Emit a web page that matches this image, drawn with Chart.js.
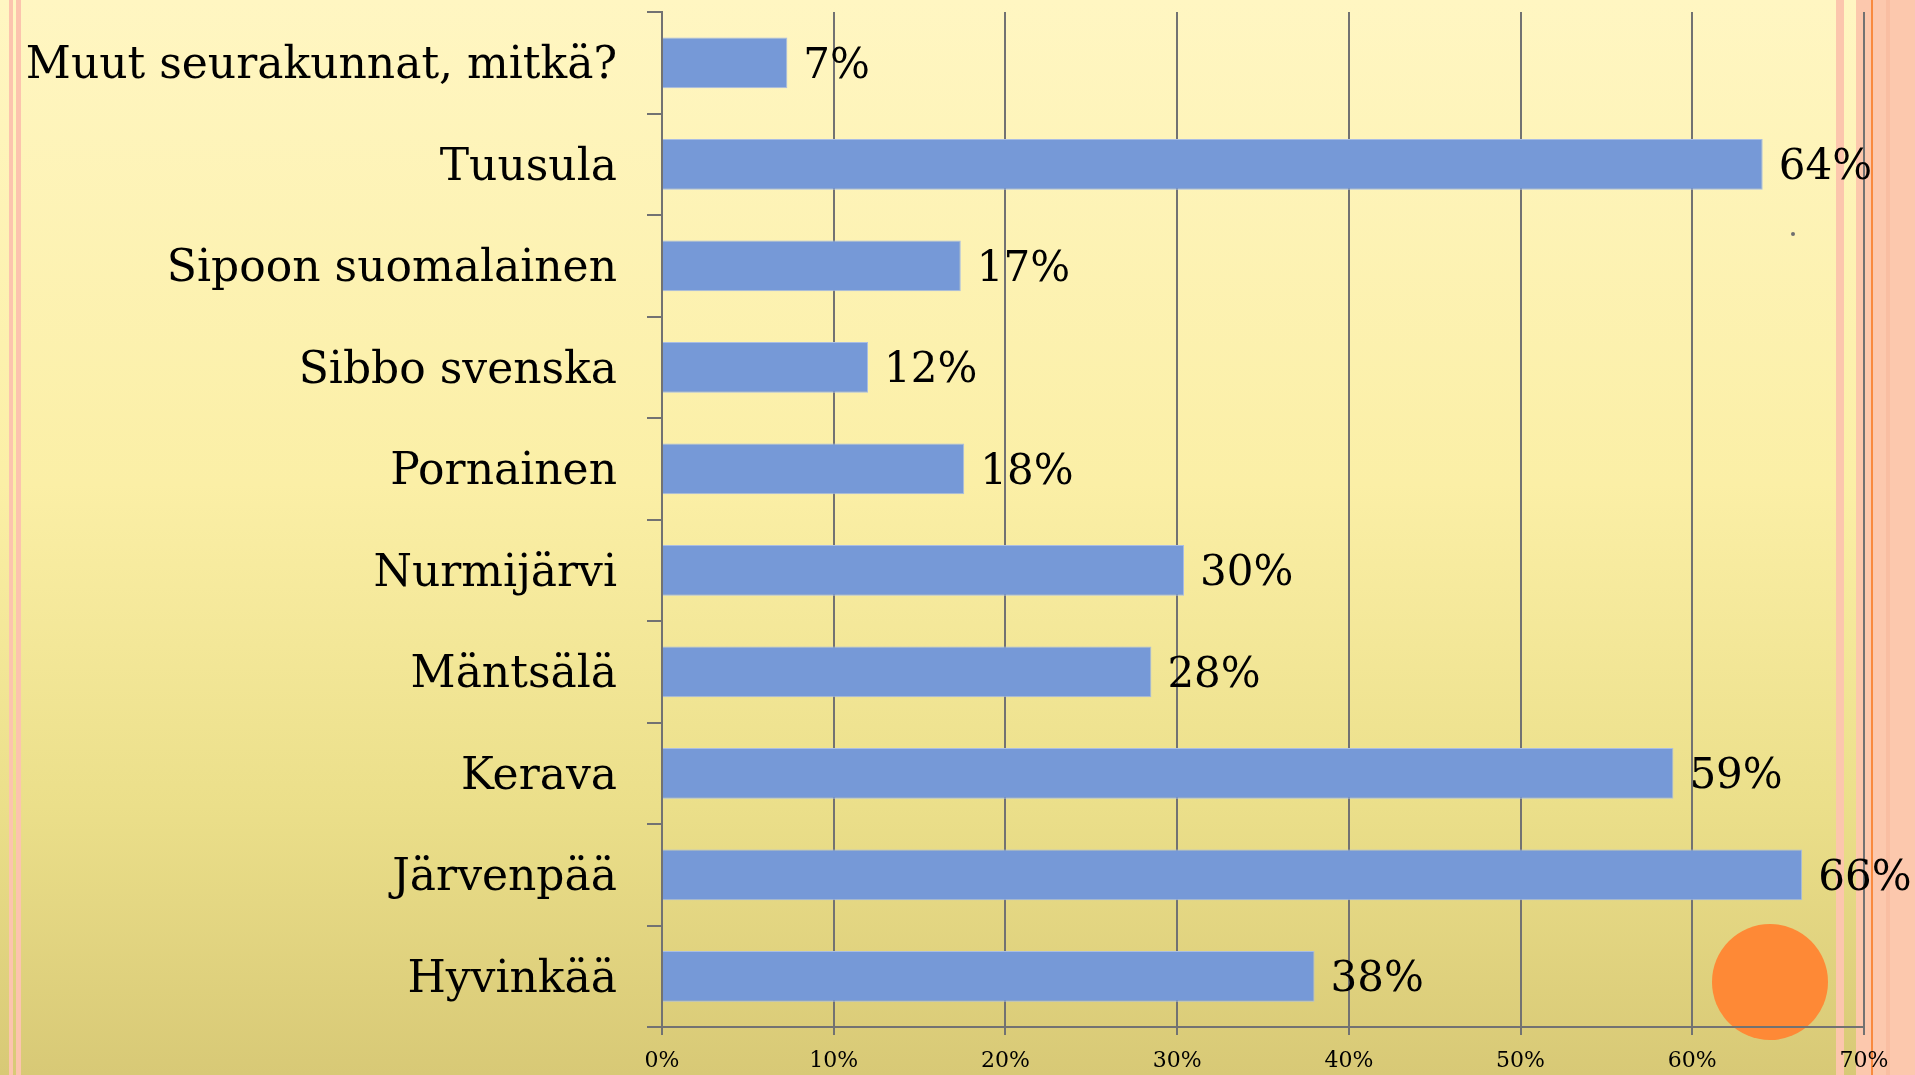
<!DOCTYPE html>
<html>
<head>
<meta charset="utf-8">
<script src="https://cdn.jsdelivr.net/npm/chart.js@4/dist/chart.umd.min.js"></script>
<style>
  body { margin: 0; overflow: hidden; }
  #slide {
    position: relative; width: 1915px; height: 1075px;
    background: linear-gradient(to bottom, #fff6c2 0%, #fbefa6 45%, #ebdf8a 75%, #d8c976 100%);
  }
  .deco { position: absolute; }
  canvas { position: absolute; left: 0; top: 0; }
</style>
</head>
<body>
<div id="slide">
  <!-- slide theme stripes -->
  <div class="deco" style="left:9px;top:0;width:4px;height:1075px;background:#fcc4ae"></div>
  <div class="deco" style="left:16px;top:0;width:5px;height:1075px;background:#fcc4ae"></div>
  <div class="deco" style="left:1836px;top:0;width:8px;height:1075px;background:#fcc6ad"></div>
  <div class="deco" style="left:1856px;top:0;width:59px;height:1075px;background:#fcc8ad"></div>
  <div class="deco" style="left:1871px;top:0;width:2px;height:1075px;background:#f98a3e"></div>
  <div class="deco" style="left:1886px;top:0;width:4px;height:1075px;background:#f9bea2"></div>
  <div class="deco" style="left:1712px;top:924px;width:116px;height:116px;border-radius:50%;background:#fe8936"></div>
  <div class="deco" style="left:1791px;top:232px;width:4px;height:4px;border-radius:50%;background:#6f6f6f"></div>
  <canvas id="kuva" width="1915" height="1075"></canvas>
</div>
<script>
// seurakunnat ja osuudet (%)
const categories = ['Muut seurakunnat, mitkä?', 'Tuusula', 'Sipoon suomalainen', 'Sibbo svenska',
  'Pornainen', 'Nurmijärvi', 'Mäntsälä', 'Kerava', 'Järvenpää', 'Hyvinkää'];
const values = [7.3, 64.1, 17.4, 12.0, 17.6, 30.4, 28.5, 58.9, 66.4, 38.0];
const valueLabels = ['7%', '64%', '17%', '12%', '18%', '30%', '28%', '59%', '66%', '38%'];
const xTicks = [0, 10, 20, 30, 40, 50, 60, 70];

const serif = 'DejaVu Serif';
const gray = '#727272';

// arvot palkkien perään
const barLabels = {
  id: 'barLabels',
  afterDatasetsDraw(chart) {
    const ctx = chart.ctx;
    const meta = chart.getDatasetMeta(0);
    ctx.save();
    ctx.font = '42px "' + serif + '"';
    ctx.fillStyle = '#000';
    ctx.textAlign = 'left';
    ctx.textBaseline = 'middle';
    meta.data.forEach((bar, i) => {
      ctx.fillText(valueLabels[i], bar.x + 16, bar.y + 4);
    });
    ctx.restore();
  }
};

new Chart(document.getElementById('kuva'), {
  type: 'bar',
  data: {
    labels: categories,
    datasets: [{
      data: values,
      backgroundColor: '#7699d7',
      borderColor: '#a9bde3',
      borderWidth: 1,
      categoryPercentage: 1,
      barPercentage: 0.5
    }]
  },
  options: {
    indexAxis: 'y',
    responsive: false,
    animation: false,
    devicePixelRatio: 1,
    layout: { padding: { left: 0, right: 51, top: 12, bottom: 0 } },
    plugins: {
      legend: { display: false },
      tooltip: { enabled: false }
    },
    scales: {
      x: {
        min: 0,
        max: 70,
        afterBuildTicks: (s) => { s.ticks = xTicks.map(v => ({ value: v })); },
        afterFit: (s) => { s.height = 48; s.paddingLeft = 0; s.paddingRight = 0; },
        grid: { color: gray, lineWidth: 2, tickLength: 8, drawTicks: true },
        border: { color: gray, width: 2 },
        ticks: {
          padding: 13,
          color: '#000',
          font: { family: serif, size: 22 },
          callback: (v) => v + '%'
        }
      },
      y: {
        afterFit: (s) => { s.width = 662; s.paddingTop = 0; s.paddingBottom = 0; },
        offset: true,
        grid: { offset: true, drawOnChartArea: false, color: gray, lineWidth: 2, tickLength: 15 },
        border: { color: gray, width: 2 },
        ticks: {
          padding: 30,
          labelOffset: 4,
          color: '#000',
          font: { family: serif, size: 44 }
        }
      }
    }
  },
  plugins: [barLabels]
});
</script>
</body>
</html>
